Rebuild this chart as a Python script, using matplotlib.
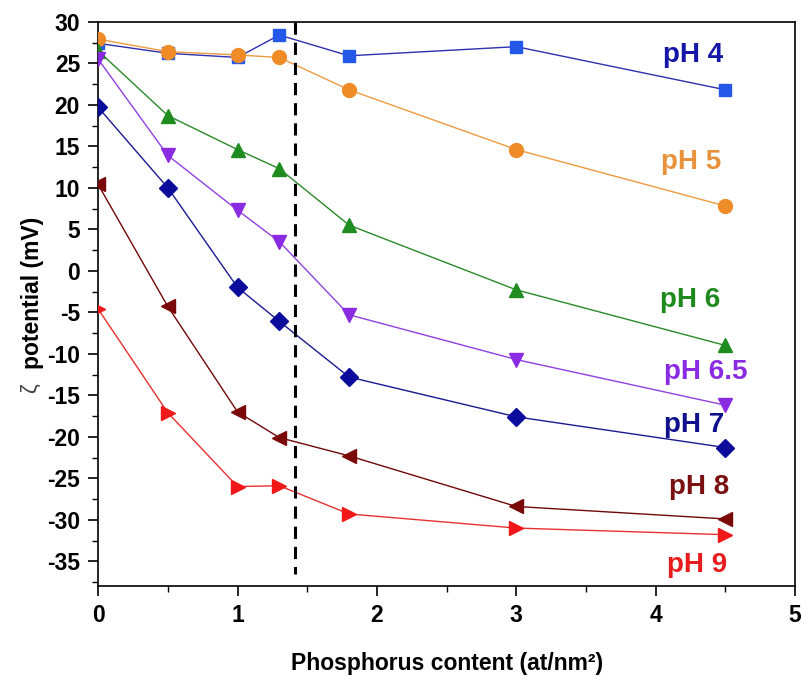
import matplotlib
matplotlib.use("Agg")
import matplotlib.pyplot as plt
from matplotlib.ticker import MultipleLocator

plt.rcParams['font.family'] = ['Liberation Sans', 'DejaVu Sans']
plt.rcParams['axes.unicode_minus'] = False

x = [0, 0.5, 1, 1.3, 1.8, 3, 4.5]
ph4 = [27.4, 26.2, 25.7, 28.4, 25.9, 27.0, 21.8]
ph5 = [27.9, 26.4, 26.0, 25.7, 21.8, 14.6, 7.8]
ph6 = [26.5, 18.7, 14.6, 12.3, 5.5, -2.3, -9.0]
ph65 = [25.5, 13.9, 7.3, 3.5, -5.3, -10.7, -16.2]
ph7 = [19.7, 10.0, -2.0, -6.1, -12.8, -17.6, -21.3]
ph8 = [10.4, -4.3, -17.0, -20.1, -22.3, -28.4, -29.9]
ph9 = [-4.6, -17.1, -26.0, -25.9, -29.3, -31.0, -31.8]

labels = ["pH 4", "pH 5", "pH 6", "pH 6.5", "pH 7", "pH 8", "pH 9"]
label_x = [4.48, 4.47, 4.46, 4.66, 4.49, 4.53, 4.51]
label_y = [26.0, 13.1, -3.5, -12.2, -18.6, -26.1, -35.4]
dashed_x = 1.41

series = [ph4, ph5, ph6, ph65, ph7, ph8, ph9]
markers = ['s', 'o', '^', 'v', 'D', '<', '>']
mcolors = ['#2458e8', '#f08c28', '#1e8c1e', '#8a2be2', '#0c0c9c', '#7a0a0a', '#f01818']
lcolors = ['#3030b0', '#f09a40', '#2a8a2a', '#9040e0', '#1a1a90', '#700808', '#e83030']
tcolors = ['#1515a8', '#e8923c', '#1e8a1e', '#8a2be2', '#10108c', '#7a1010', '#e81c1c']
msizes = [9, 10, 10.5, 10.5, 9, 10.5, 10.5]

fig = plt.figure(figsize=(8.04, 6.80), dpi=100)
ax = fig.add_axes([0.122, 0.138, 0.867, 0.830])

for ys, m, mc, lc, ms in zip(series, markers, mcolors, lcolors, msizes):
    ax.plot(x, ys, color=lc, lw=1.0, marker=m, markersize=ms,
            markerfacecolor=mc, markeredgecolor=mc, zorder=3)

ax.plot([dashed_x, dashed_x], [30, -36.5], color='black', lw=2.2,
        linestyle=(0, (4, 2.6)), zorder=4)

for t, tx, ty, c in zip(labels, label_x, label_y, tcolors):
    ax.text(tx, ty, t, color=c, fontsize=20, fontweight='bold',
            ha='right', va='center')

ax.set_xlim(0, 5)
ax.set_ylim(-38, 30)
ax.xaxis.set_major_locator(MultipleLocator(1))
ax.xaxis.set_minor_locator(MultipleLocator(0.5))
ax.yaxis.set_minor_locator(MultipleLocator(2.5))
ax.set_yticks(range(-35, 31, 5))
ax.tick_params(which='major', direction='out', length=7, width=1.2,
               labelsize=16.5, pad=6, top=False, right=False)
ax.tick_params(which='minor', direction='out', length=4, width=1.0,
               top=False, right=False)
for lab in ax.get_xticklabels() + ax.get_yticklabels():
    lab.set_fontweight('bold')
for s in ax.spines.values():
    s.set_linewidth(1.2)

ax.set_xlabel("Phosphorus content (at/nm²)", fontsize=16.5, fontweight='bold',
              labelpad=18)
fig.text(33 / 804, 1 - 293 / 680, "potential (mV)", rotation=90, fontsize=16.5,
         fontweight='bold', ha='center', va='center')
fig.text(31 / 804, 1 - 388 / 680, "ζ", rotation=90, fontsize=16,
         ha='center', va='center', color='#444444')

fig.savefig("out.png", dpi=100)
